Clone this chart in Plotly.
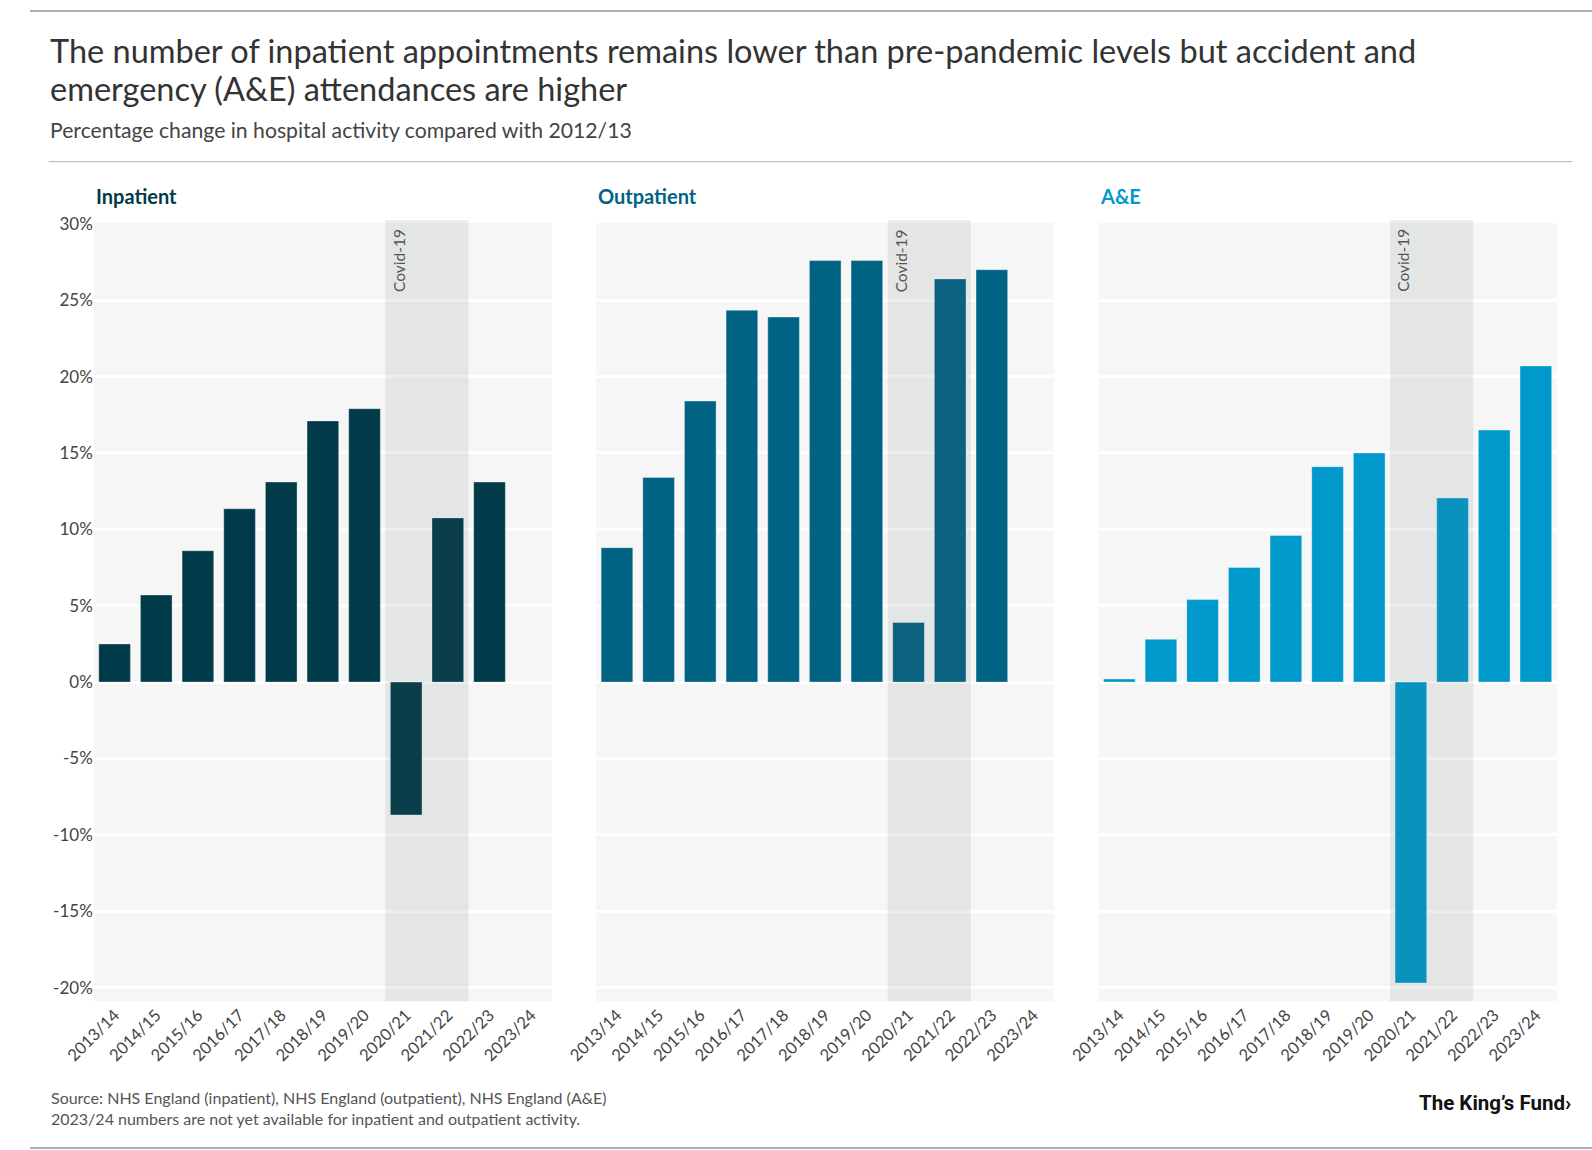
import plotly.graph_objects as go

# Financial years (x categories)
years = ['2013/14', '2014/15', '2015/16', '2016/17', '2017/18', '2018/19',
         '2019/20', '2020/21', '2021/22', '2022/23', '2023/24']

# Percentage change compared with 2012/13
inpatient = [2.5, 5.7, 8.6, 11.35, 13.1, 17.1, 17.9, -8.7, 10.75, 13.1, None]
outpatient = [8.8, 13.4, 18.4, 24.35, 23.9, 27.6, 27.6, 3.9, 26.4, 27.0, None]
ae = [0.2, 2.8, 5.4, 7.5, 9.6, 14.1, 15.0, -19.7, 12.05, 16.5, 20.7]

# y ticks (plain hyphen for negatives, as in the original)
y_ticks = [-20, -15, -10, -5, 0, 5, 10, 15, 20, 25, 30]
y_tick_labels = ['-20%', '-15%', '-10%', '-5%', '0%', '5%', '10%', '15%', '20%', '25%', '30%']

panel_names = ['Inpatient', 'Outpatient', 'A&E']
panel_colors = ['#013a49', '#006384', '#0099cc']

W, H = 1592, 1150
FONT = 'Lato'


def px(x):
    return x / W


def py(y):
    return 1 - y / H


domains = [[px(65), px(532)], [px(577), px(1044)], [px(1089), px(1556)]]
y_domain = [py(1000), py(215)]

fig = go.Figure()

for i, (name, vals, col) in enumerate(zip(panel_names, [inpatient, outpatient, ae], panel_colors)):
    sfx = '' if i == 0 else str(i + 1)
    fig.add_trace(go.Bar(
        x=years, y=vals, name=name,
        marker=dict(color=col, line=dict(color='rgba(255,255,255,0.35)', width=1)),
        xaxis='x' + sfx, yaxis='y' + sfx,
        showlegend=False, hoverinfo='x+y',
    ))

    fig.layout['xaxis' + sfx] = dict(
        domain=domains[i], anchor='y' + sfx, type='category',
        range=[-0.5, 10.5], tickangle=-45, showgrid=False, zeroline=False,
        showline=False, ticks='', tickfont=dict(size=16.5, color='#444', family=FONT),
    )
    fig.layout['yaxis' + sfx] = dict(
        domain=y_domain, anchor='x' + sfx, range=[-20.9, 30.05],
        tickvals=y_ticks, ticktext=y_tick_labels, showticklabels=(i == 0),
        gridcolor='white', gridwidth=3, zeroline=True, zerolinecolor='white',
        zerolinewidth=3, ticks='', tickfont=dict(size=17, color='#444', family=FONT),
        **({} if i == 0 else {'matches': 'y'}),
    )

    # Covid-19 shaded band (overlaid, so bars inside look slightly muted)
    fig.add_shape(type='rect', xref='x' + sfx, yref='y' + sfx + ' domain',
                  x0=6.5, x1=8.5, y0=0, y1=1.004, layer='above',
                  fillcolor='rgba(88,95,95,0.115)', line=dict(width=0))
    fig.add_annotation(text='Covid-19', xref='x' + sfx, yref='y' + sfx + ' domain',
                       x=6.5, y=1, xanchor='left', yanchor='top', xshift=2, yshift=-4,
                       textangle=-90, showarrow=False,
                       font=dict(size=15.5, color='#555', family=FONT))

    # Panel title
    fig.add_annotation(text='<b>' + name + '</b>', xref='paper', yref='paper',
                       x=domains[i][0], y=py(188), xanchor='left', yanchor='middle',
                       showarrow=False, font=dict(size=20, color=col, family=FONT))

# Title (two lines, set separately to keep the tight line spacing)
title_lines = ['The number of inpatient appointments remains lower than pre-pandemic levels but accident and',
               'emergency (A&E) attendances are higher']
for line, yc in zip(title_lines, [41, 79]):
    fig.add_annotation(text=line, xref='paper', yref='paper', x=px(18), y=py(yc),
                       xanchor='left', yanchor='middle', showarrow=False,
                       font=dict(size=32.5, color='#333', family=FONT))

fig.add_annotation(
    text='Percentage change in hospital activity compared with 2012/13',
    xref='paper', yref='paper', x=px(18), y=py(121), xanchor='left', yanchor='middle',
    showarrow=False, font=dict(size=21.2, color='#444', family=FONT))
fig.add_annotation(
    text='Source: NHS England (inpatient), NHS England (outpatient), NHS England (A&E)'
         '<br>2023/24 numbers are not yet available for inpatient and outpatient activity.',
    xref='paper', yref='paper', x=px(19), y=py(1085), xanchor='left', yanchor='top',
    align='left', showarrow=False, font=dict(size=16, color='#555', family=FONT))
fig.add_annotation(
    text='<b>The King’s Fund›</b>', xref='paper', yref='paper', x=px(1573), y=py(1103),
    xanchor='right', yanchor='middle', showarrow=False,
    font=dict(size=20.5, color='#111', family='Roboto'))

# Rules
fig.add_shape(type='line', xref='paper', yref='paper', x0=px(19), x1=px(1572),
              y0=py(153), y1=py(153), line=dict(color='#b0b4b4', width=1))
fig.add_shape(type='line', xref='paper', yref='paper', x0=0, x1=1,
              y0=py(1), y1=py(1), line=dict(color='#a9b3b3', width=2))
fig.add_shape(type='line', xref='paper', yref='paper', x0=0, x1=1,
              y0=py(1148), y1=py(1148), line=dict(color='#a9b3b3', width=2))

fig.update_layout(
    width=W, height=H, autosize=False,
    margin=dict(l=0, r=0, t=0, b=0),
    paper_bgcolor='white', plot_bgcolor='#f6f6f6',
    bargap=0.24, font=dict(family=FONT),
)

# page has a default body margin; drop it so the figure fills the window
fig.write_html('out.html', config={'displayModeBar': False},
               post_script="document.body.style.margin='0';")
